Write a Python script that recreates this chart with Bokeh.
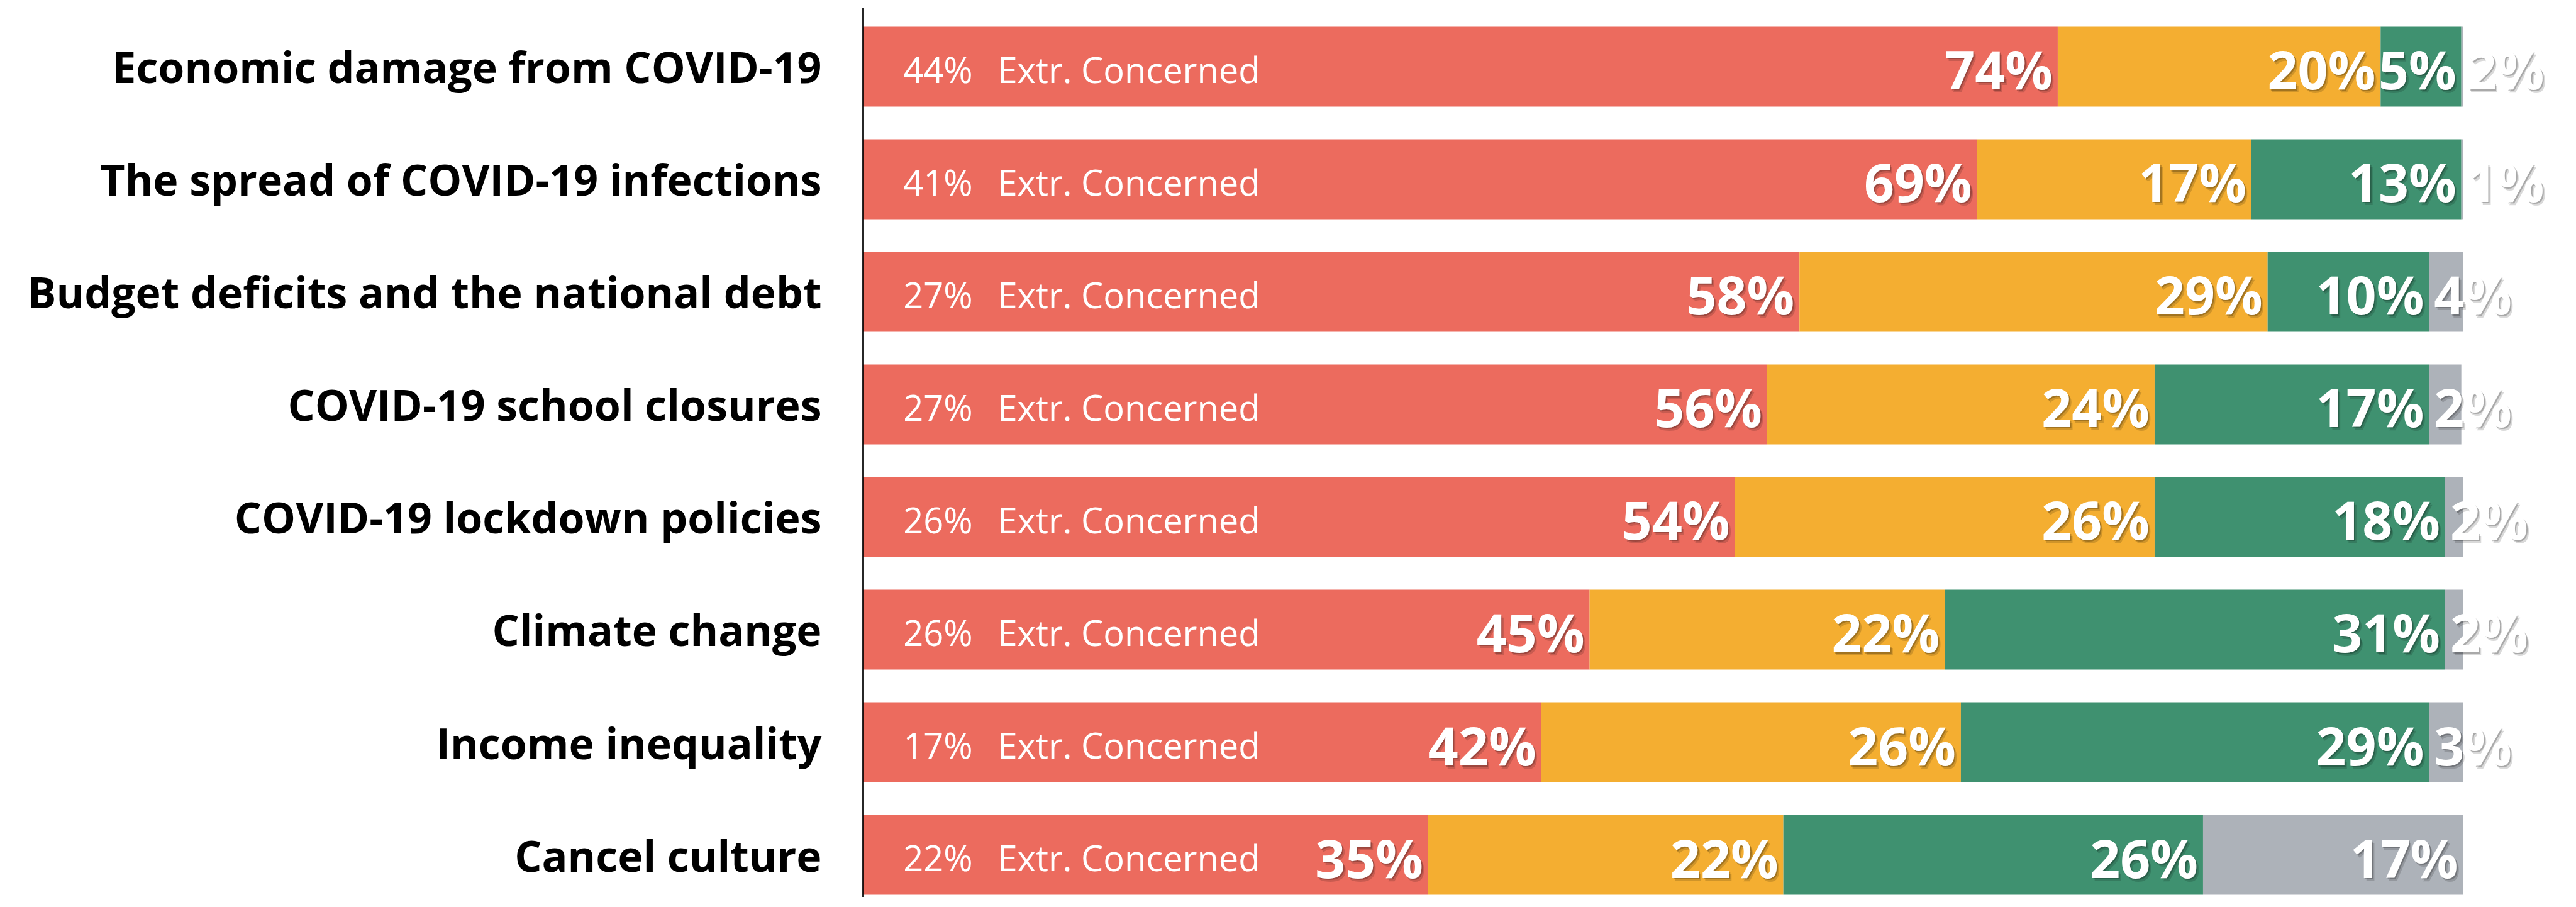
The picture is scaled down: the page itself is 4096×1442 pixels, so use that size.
import numpy as np
from bokeh.plotting import figure
from bokeh.models import Range1d, FixedTicker, ColumnDataSource
from bokeh.core.properties import value
from bokeh.embed import file_html
from bokeh.resources import INLINE

# ---- data ----
categories = [
    "Economic damage from COVID-19",
    "The spread of COVID-19 infections",
    "Budget deficits and the national debt",
    "COVID-19 school closures",
    "COVID-19 lockdown policies",
    "Climate change",
    "Income inequality",
    "Cancel culture",
]
concerned = [74, 69, 58, 56, 54, 45, 42, 35]
somewhat = [20, 17, 29, 24, 26, 22, 26, 22]
not_concerned = [5, 13, 10, 17, 18, 31, 29, 26]
unsure = [2, 1, 4, 2, 2, 2, 3, 17]
extremely_concerned = [44, 41, 27, 27, 26, 26, 17, 22]

series = [concerned, somewhat, not_concerned, unsure]
colors = ["#EC6B5E", "#F4AE31", "#3F9170", "#ADB2B9"]

XMAX = 99.11      # axis maximum: bars are cut here
XEND = 105.5      # right edge of the plotting frame
FONT = value("Open Sans")

p = figure(width=4080, height=1426,
           x_range=Range1d(0, XEND), y_range=Range1d(7.377, -0.522),
           output_backend="svg", toolbar_location=None, x_axis_location=None,
           min_border_left=1372, min_border_top=12, min_border_bottom=0,
           min_border_right=0)
p.outline_line_color = None
p.xgrid.visible = False
p.ygrid.visible = False
p.background_fill_color = "white"
p.border_fill_color = "white"

ys = np.arange(len(categories))
yax = p.yaxis[0]
yax.ticker = FixedTicker(ticks=list(range(len(categories))))
yax.major_label_overrides = {int(i): c for i, c in enumerate(categories)}
yax.axis_line_color = "black"
yax.axis_line_width = 2.7
yax.major_tick_line_color = None
yax.minor_tick_line_color = None
yax.major_tick_out = 0
yax.major_tick_in = 0
yax.major_label_standoff = 66
yax.major_label_text_font = "Open Sans"
yax.major_label_text_font_style = "bold"
yax.major_label_text_font_size = "68px"
yax.major_label_text_color = "black"

# ---- stacked bars ----
cum = np.zeros(len(categories))
in_lab = dict(x=[], y=[], t=[])
out_lab = dict(x=[], y=[], t=[])
for vals, col in zip(series, colors):
    v = np.array(vals, dtype=float)
    left = np.minimum(cum, XMAX)
    right = np.minimum(cum + v, XMAX)
    p.hbar(y=ys, left=left, right=right, height=0.709, fill_color=col,
           line_color=None)
    for i in range(len(v)):
        if v[i] <= 4:
            out_lab["x"].append(left[i]); out_lab["y"].append(ys[i])
            out_lab["t"].append(f"{int(v[i])}%")
        else:
            in_lab["x"].append(right[i]); in_lab["y"].append(ys[i])
            in_lab["t"].append(f"{int(v[i])}%")
    cum = cum + v

src_in = ColumnDataSource(in_lab)
src_out = ColumnDataSource(out_lab)
common = dict(text="t", text_font=FONT, text_font_style="bold",
              text_font_size="84px", text_baseline="middle")
for src, align, dx in [(src_in, "right", -8), (src_out, "left", 8)]:
    p.text(x="x", y="y", source=src, text_align=align, x_offset=dx + 4,
           y_offset=9, text_color="black", text_alpha=0.15, **common)
    p.text(x="x", y="y", source=src, text_align=align, x_offset=dx + 2,
           y_offset=6, text_color="black", text_alpha=0.22, **common)
    p.text(x="x", y="y", source=src, text_align=align, x_offset=dx,
           y_offset=4, text_color="white", **common)

# ---- "extremely concerned" notes ----
ext_src = ColumnDataSource(dict(
    x=np.zeros(len(categories)), y=ys,
    pct=[f"{v}%" for v in extremely_concerned],
    lab=["Extr. Concerned"] * len(categories)))
p.text(x="x", y="y", text="pct", source=ext_src, x_offset=174, y_offset=4,
       text_align="right", text_baseline="middle", text_font=FONT,
       text_font_size="56px", text_color="white")
p.text(x="x", y="y", text="lab", source=ext_src, x_offset=214, y_offset=4,
       text_align="left", text_baseline="middle", text_font=FONT,
       text_font_size="56px", text_color="white")

open("out.html", "w").write(file_html(p, INLINE))
